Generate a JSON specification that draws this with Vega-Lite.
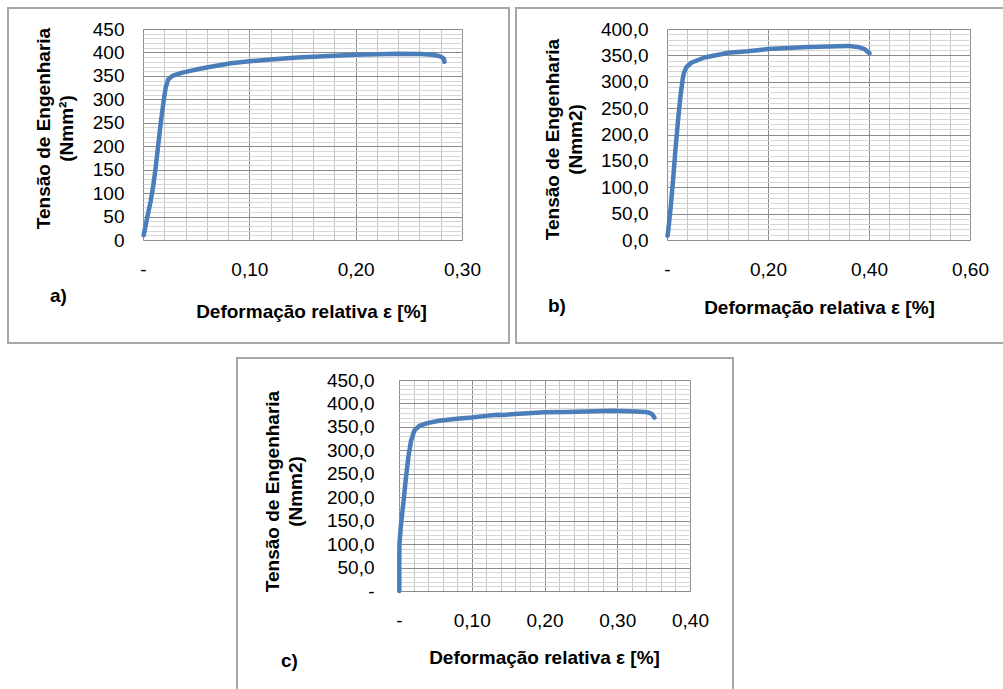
{
  "$schema": "https://vega.github.io/schema/vega-lite/v6.json",
  "padding": {"left": 7, "top": 7, "right": -8, "bottom": -3},
  "background": "white",
  "config": {
    "font": "Liberation Sans",
    "view": {"stroke": "#a6a6a6", "strokeWidth": 2},
    "axis": {
      "labelFont": "Liberation Sans", "titleFont": "Liberation Sans",
      "labelFontSize": 19, "titleFontSize": 19, "labelColor": "#000000", "titleColor": "#000000",
      "titleFontWeight": "bold", "domain": false, "ticks": false, "tickSize": 0,
      "labelFlush": false, "labelOverlap": false, "gridWidth": 1
    }
  },
  "datasets": {
    "a": [{"x":0.0006,"y":10},{"x":0.004,"y":48},{"x":0.0072,"y":83},{"x":0.0094,"y":112},{"x":0.0119,"y":154},{"x":0.0144,"y":204},{"x":0.0169,"y":254},{"x":0.0194,"y":296},{"x":0.0213,"y":325},{"x":0.0238,"y":343},{"x":0.0276,"y":350},{"x":0.037,"y":357},{"x":0.051,"y":364},{"x":0.065,"y":370},{"x":0.0828,"y":377},{"x":0.1,"y":381},{"x":0.12,"y":385},{"x":0.1455,"y":389},{"x":0.17,"y":392},{"x":0.2,"y":395},{"x":0.22,"y":396},{"x":0.24,"y":397},{"x":0.262,"y":396.5},{"x":0.272,"y":395},{"x":0.277,"y":393},{"x":0.281,"y":390},{"x":0.283,"y":386},{"x":0.2835,"y":380}],
    "b": [{"x":0.001,"y":8},{"x":0.002,"y":14},{"x":0.0072,"y":61},{"x":0.0119,"y":112},{"x":0.0165,"y":169},{"x":0.0218,"y":226},{"x":0.027,"y":276},{"x":0.0316,"y":308},{"x":0.0337,"y":317},{"x":0.038,"y":327},{"x":0.048,"y":336},{"x":0.074,"y":346},{"x":0.107,"y":352},{"x":0.121,"y":355},{"x":0.16,"y":358},{"x":0.2,"y":362},{"x":0.24,"y":364},{"x":0.279,"y":366},{"x":0.32,"y":367},{"x":0.358,"y":368},{"x":0.378,"y":366},{"x":0.391,"y":362},{"x":0.401,"y":354}],
    "c": [{"x":0.0004,"y":0},{"x":0.0004,"y":60},{"x":0.0006,"y":100},{"x":0.0027,"y":142},{"x":0.0063,"y":192},{"x":0.0096,"y":242},{"x":0.0128,"y":285},{"x":0.0165,"y":320},{"x":0.021,"y":342},{"x":0.028,"y":352},{"x":0.039,"y":358},{"x":0.055,"y":363},{"x":0.076,"y":367},{"x":0.1,"y":370},{"x":0.12,"y":373.5},{"x":0.135,"y":376},{"x":0.143,"y":375.5},{"x":0.16,"y":377.5},{"x":0.2,"y":381},{"x":0.23,"y":382},{"x":0.257,"y":383},{"x":0.293,"y":384.5},{"x":0.325,"y":383},{"x":0.338,"y":382},{"x":0.344,"y":380},{"x":0.348,"y":377},{"x":0.351,"y":370}]
  },
  "spacing": 13,
  "vconcat": [
    {
      "spacing": 5,
      "hconcat": [
        {
          "width": 501, "height": 335,
          "data": {"name": "a"},
          "title": {"text": "a)", "orient": "bottom", "anchor": "start", "frame": "group", "offset": -56, "dx": 42, "fontSize": 19, "fontWeight": "bold", "color": "#000000", "font": "Liberation Sans"},
          "resolve": {"axis": {"x": "independent", "y": "independent"}},
          "layer": [
            {
              "mark": {"type": "line", "opacity": 0},
              "encoding": {
                "x": {"field": "x", "type": "quantitative", "scale": {"domain": [0, 0.3], "range": [135, 454], "nice": false, "zero": false},
                  "axis": {"orient": "top", "grid": true, "labels": false, "title": null, "gridColor": "#c4c4c4", "values": [0,0.02,0.04,0.06,0.08,0.1,0.12,0.14,0.16,0.18,0.2,0.22,0.24,0.26,0.28,0.3]}},
                "y": {"field": "y", "type": "quantitative", "scale": {"domain": [0, 450], "range": [232, 21], "nice": false, "zero": false},
                  "axis": {"orient": "left", "grid": true, "labels": false, "title": null, "gridColor": "#d6d6d6", "values": [0,10,20,30,40,50,60,70,80,90,100,110,120,130,140,150,160,170,180,190,200,210,220,230,240,250,260,270,280,290,300,310,320,330,340,350,360,370,380,390,400,410,420,430,440,450]}}
              }
            },
            {
              "mark": {"type": "line", "opacity": 0},
              "encoding": {
                "x": {"field": "x", "type": "quantitative", "scale": {"domain": [0, 0.3], "range": [135, 454], "nice": false, "zero": false},
                  "axis": {"orient": "top", "grid": true, "labels": false, "title": null, "gridColor": "#8c8c8c", "values": [0, 0.1, 0.2, 0.3]}},
                "y": {"field": "y", "type": "quantitative", "scale": {"domain": [0, 450], "range": [232, 21], "nice": false, "zero": false},
                  "axis": {"orient": "left", "grid": true, "labels": false, "title": null, "gridColor": "#8c8c8c", "values": [0,50,100,150,200,250,300,350,400,450]}}
              }
            },
            {
              "mark": {"type": "line", "color": "#4a7ebb", "strokeWidth": 4.5, "strokeCap": "round", "strokeJoin": "round"},
              "encoding": {
                "x": {"field": "x", "type": "quantitative", "scale": {"domain": [0, 0.3], "range": [135, 454], "nice": false, "zero": false},
                  "axis": {"orient": "bottom", "grid": false, "offset": -103, "values": [0, 0.1, 0.2, 0.3], "labelPadding": 20,
                    "labelExpr": "datum.value == 0 ? '-\u00a0\u00a0' : replace(format(datum.value, '.2f'), '.', ',')",
                    "title": "Deformação relativa ε [%]", "titlePadding": 23, "titleX": 303}},
                "y": {"field": "y", "type": "quantitative", "scale": {"domain": [0, 450], "range": [232, 21], "nice": false, "zero": false},
                  "axis": {"orient": "left", "grid": false, "offset": -135, "values": [0,50,100,150,200,250,300,350,400,450], "labelPadding": 19,
                    "title": ["Tensão de Engenharia", "(Nmm²)"], "titlePadding": 16, "titleY": 120, "titleLineHeight": 23}}
              }
            }
          ]
        },
        {
          "width": 495, "height": 335,
          "data": {"name": "b"},
          "title": {"text": "b)", "orient": "bottom", "anchor": "start", "frame": "group", "offset": -46, "dx": 32, "fontSize": 19, "fontWeight": "bold", "color": "#000000", "font": "Liberation Sans"},
          "resolve": {"axis": {"x": "independent", "y": "independent"}},
          "layer": [
            {
              "mark": {"type": "line", "opacity": 0},
              "encoding": {
                "x": {"field": "x", "type": "quantitative", "scale": {"domain": [0, 0.6], "range": [151, 454], "nice": false, "zero": false},
                  "axis": {"orient": "top", "grid": true, "labels": false, "title": null, "gridColor": "#c4c4c4", "values": [0,0.04,0.08,0.12,0.16,0.2,0.24,0.28,0.32,0.36,0.4,0.44,0.48,0.52,0.56,0.6]}},
                "y": {"field": "y", "type": "quantitative", "scale": {"domain": [0, 400], "range": [232, 21], "nice": false, "zero": false},
                  "axis": {"orient": "left", "grid": true, "labels": false, "title": null, "gridColor": "#d6d6d6", "values": [0,10,20,30,40,50,60,70,80,90,100,110,120,130,140,150,160,170,180,190,200,210,220,230,240,250,260,270,280,290,300,310,320,330,340,350,360,370,380,390,400]}}
              }
            },
            {
              "mark": {"type": "line", "opacity": 0},
              "encoding": {
                "x": {"field": "x", "type": "quantitative", "scale": {"domain": [0, 0.6], "range": [151, 454], "nice": false, "zero": false},
                  "axis": {"orient": "top", "grid": true, "labels": false, "title": null, "gridColor": "#8c8c8c", "values": [0, 0.2, 0.4, 0.6]}},
                "y": {"field": "y", "type": "quantitative", "scale": {"domain": [0, 400], "range": [232, 21], "nice": false, "zero": false},
                  "axis": {"orient": "left", "grid": true, "labels": false, "title": null, "gridColor": "#8c8c8c", "values": [0,50,100,150,200,250,300,350,400]}}
              }
            },
            {
              "mark": {"type": "line", "color": "#4a7ebb", "strokeWidth": 4.5, "strokeCap": "round", "strokeJoin": "round"},
              "encoding": {
                "x": {"field": "x", "type": "quantitative", "scale": {"domain": [0, 0.6], "range": [151, 454], "nice": false, "zero": false},
                  "axis": {"orient": "bottom", "grid": false, "offset": -103, "values": [0, 0.2, 0.4, 0.6], "labelPadding": 20,
                    "labelExpr": "datum.value == 0 ? '-\u00a0\u00a0' : replace(format(datum.value, '.2f'), '.', ',')",
                    "title": "Deformação relativa ε [%]", "titlePadding": 19, "titleX": 303}},
                "y": {"field": "y", "type": "quantitative", "scale": {"domain": [0, 400], "range": [232, 21], "nice": false, "zero": false},
                  "axis": {"orient": "left", "grid": false, "offset": -151, "values": [0,50,100,150,200,250,300,350,400], "labelPadding": 19,
                    "labelExpr": "replace(format(datum.value, '.1f'), '.', ',')",
                    "title": ["Tensão de Engenharia", "(Nmm2)"], "titlePadding": 15, "titleY": 131, "titleLineHeight": 23}}
              }
            }
          ]
        }
      ]
    },
    {
      "spacing": 0,
      "hconcat": [
        {"width": 228, "height": 10, "data": {"values": []}, "mark": "point", "encoding": {}, "view": {"stroke": null}},
        {
          "width": 496, "height": 335,
          "data": {"name": "c"},
          "title": {"text": "c)", "orient": "bottom", "anchor": "start", "frame": "group", "offset": -41, "dx": 44, "fontSize": 19, "fontWeight": "bold", "color": "#000000", "font": "Liberation Sans"},
          "resolve": {"axis": {"x": "independent", "y": "independent"}},
          "layer": [
            {
              "mark": {"type": "line", "opacity": 0},
              "encoding": {
                "x": {"field": "x", "type": "quantitative", "scale": {"domain": [0, 0.4], "range": [162, 453], "nice": false, "zero": false},
                  "axis": {"orient": "top", "grid": true, "labels": false, "title": null, "gridColor": "#c4c4c4", "values": [0,0.02,0.04,0.06,0.08,0.1,0.12,0.14,0.16,0.18,0.2,0.22,0.24,0.26,0.28,0.3,0.32,0.34,0.36,0.38,0.4]}},
                "y": {"field": "y", "type": "quantitative", "scale": {"domain": [0, 450], "range": [233, 22], "nice": false, "zero": false},
                  "axis": {"orient": "left", "grid": true, "labels": false, "title": null, "gridColor": "#d6d6d6", "values": [0,10,20,30,40,50,60,70,80,90,100,110,120,130,140,150,160,170,180,190,200,210,220,230,240,250,260,270,280,290,300,310,320,330,340,350,360,370,380,390,400,410,420,430,440,450]}}
              }
            },
            {
              "mark": {"type": "line", "opacity": 0},
              "encoding": {
                "x": {"field": "x", "type": "quantitative", "scale": {"domain": [0, 0.4], "range": [162, 453], "nice": false, "zero": false},
                  "axis": {"orient": "top", "grid": true, "labels": false, "title": null, "gridColor": "#8c8c8c", "values": [0, 0.1, 0.2, 0.3, 0.4]}},
                "y": {"field": "y", "type": "quantitative", "scale": {"domain": [0, 450], "range": [233, 22], "nice": false, "zero": false},
                  "axis": {"orient": "left", "grid": true, "labels": false, "title": null, "gridColor": "#8c8c8c", "values": [0,50,100,150,200,250,300,350,400,450]}}
              }
            },
            {
              "mark": {"type": "line", "color": "#4a7ebb", "strokeWidth": 4.5, "strokeCap": "round", "strokeJoin": "round"},
              "encoding": {
                "x": {"field": "x", "type": "quantitative", "scale": {"domain": [0, 0.4], "range": [162, 453], "nice": false, "zero": false},
                  "axis": {"orient": "bottom", "grid": false, "offset": -102, "values": [0, 0.1, 0.2, 0.3, 0.4], "labelPadding": 20,
                    "labelExpr": "datum.value == 0 ? '-\u00a0\u00a0' : replace(format(datum.value, '.2f'), '.', ',')",
                    "title": "Deformação relativa ε [%]", "titlePadding": 18, "titleX": 307}},
                "y": {"field": "y", "type": "quantitative", "scale": {"domain": [0, 450], "range": [233, 22], "nice": false, "zero": false},
                  "axis": {"orient": "left", "grid": false, "offset": -162, "values": [0,50,100,150,200,250,300,350,400,450], "labelPadding": 25,
                    "labelExpr": "datum.value == 0 ? '-\u00a0\u00a0' : replace(format(datum.value, '.1f'), '.', ',')",
                    "title": ["Tensão de Engenharia", "(Nmm2)"], "titlePadding": 21, "titleY": 133, "titleLineHeight": 23}}
              }
            }
          ]
        }
      ]
    }
  ]
}
